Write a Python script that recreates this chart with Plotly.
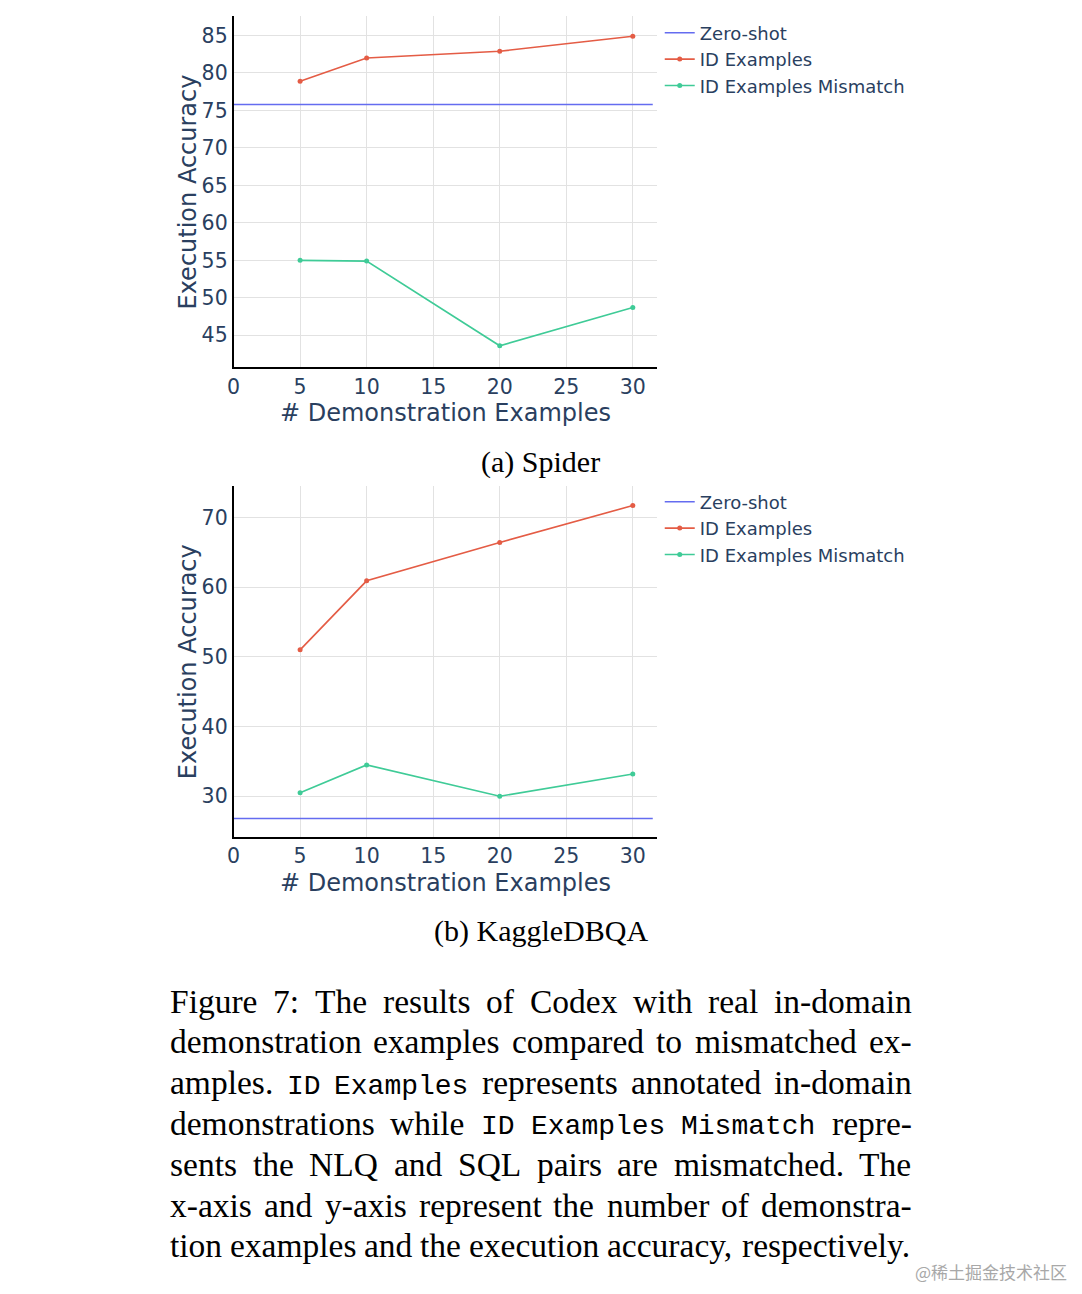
import plotly.graph_objects as go

# ---------------- data ----------------
shots = [5, 10, 20, 30]
zero_x = [0, 31.5]

spider_zero = 75.8
spider_id = [78.9, 82.0, 82.9, 84.9]
spider_mismatch = [55.0, 54.9, 43.6, 48.7]

kaggle_zero = 26.8
kaggle_id = [51.0, 60.9, 66.4, 71.7]
kaggle_mismatch = [30.5, 34.5, 30.0, 33.2]

x_ticks = [0, 5, 10, 15, 20, 25, 30]
spider_y_ticks = [45, 50, 55, 60, 65, 70, 75, 80, 85]
kaggle_y_ticks = [30, 40, 50, 60, 70]

series_names = ["Zero-shot", "ID Examples", "ID Examples Mismatch"]
x_title = "# Demonstration Examples"
y_title = "Execution Accuracy"
sub_captions = ["(a) Spider", "(b) KaggleDBQA"]

caption_lines = [
    "Figure 7:  The results of Codex with real in-domain",
    "demonstration examples compared to mismatched ex-",
    "amples. `ID `Examples represents annotated in-domain",
    "demonstrations while `ID `Examples `Mismatch repre-",
    "sents the NLQ and SQL pairs are mismatched.  The",
    "x-axis and y-axis represent the number of demonstra-",
    "tion examples and the execution accuracy, respectively.",
]
watermark = "@稀土掘金技术社区"

# ---------------- layout helpers ----------------
PAGE_MARGIN = 8          # default body margin of the html page
W, H = 1082 - 2 * PAGE_MARGIN, 1294 - 2 * PAGE_MARGIN
def fx(p):
    return (p - PAGE_MARGIN) / W
def fy(p):
    return 1 - (p - PAGE_MARGIN) / H

colors = ["#646cf0", "#e45c45", "#3fcb97"]
TXT = "#2a3f5f"
SANS = "DejaVu Sans"

fig = go.Figure()

panels = [
    dict(zero=spider_zero, idv=spider_id, mis=spider_mismatch, xa="x", ya="y", leg="legend"),
    dict(zero=kaggle_zero, idv=kaggle_id, mis=kaggle_mismatch, xa="x2", ya="y2", leg="legend2"),
]
for p in panels:
    fig.add_trace(go.Scatter(x=zero_x, y=[p["zero"]] * len(zero_x), mode="lines",
                             name=series_names[0], line=dict(color=colors[0], width=1.6),
                             xaxis=p["xa"], yaxis=p["ya"], legend=p["leg"]))
    fig.add_trace(go.Scatter(x=shots, y=p["idv"], mode="lines+markers",
                             name=series_names[1], line=dict(color=colors[1], width=1.6),
                             marker=dict(size=5), xaxis=p["xa"], yaxis=p["ya"], legend=p["leg"]))
    fig.add_trace(go.Scatter(x=shots, y=p["mis"], mode="lines+markers",
                             name=series_names[2], line=dict(color=colors[2], width=1.6),
                             marker=dict(size=5), xaxis=p["xa"], yaxis=p["ya"], legend=p["leg"]))

axis_common = dict(showline=True, linecolor="black", linewidth=1.5, showgrid=True,
                   gridcolor="#e2e2e2", gridwidth=1, zeroline=False, ticks="",
                   tickfont=dict(size=20.5, color=TXT, family=SANS))

top_dom = [fy(367.3), fy(16)]
bot_dom = [fy(836.7), fy(486)]
x_dom = [fx(228), fx(654)]

fig.update_layout(
    width=W, height=H, margin=dict(l=0, r=0, t=0, b=0),
    paper_bgcolor="white", plot_bgcolor="white",
    font=dict(family=SANS, color=TXT),
    xaxis=dict(domain=x_dom, range=[0, 31.8], tickvals=x_ticks, anchor="y", **axis_common),
    yaxis=dict(domain=top_dom, range=[40.73, 87.6], tickvals=spider_y_ticks, anchor="x", **axis_common),
    xaxis2=dict(domain=x_dom, range=[0, 31.8], tickvals=x_ticks, anchor="y2", **axis_common),
    yaxis2=dict(domain=bot_dom, range=[24.2, 74.5], tickvals=kaggle_y_ticks, anchor="x2", **axis_common),
    legend=dict(x=fx(657), y=fy(14.5), xanchor="left", yanchor="top",
                font=dict(size=18, color=TXT, family=SANS), bgcolor="rgba(0,0,0,0)", itemwidth=30),
    legend2=dict(x=fx(657), y=fy(483.5), xanchor="left", yanchor="top",
                 font=dict(size=18, color=TXT, family=SANS), bgcolor="rgba(0,0,0,0)", itemwidth=30),
    showlegend=True,
)

ann = []
# axis titles
for (top, bot) in [(16, 367.3), (486, 836.7)]:
    ann.append(dict(x=fx(182), y=fy((top + bot) / 2), xref="paper", yref="paper",
                    text=y_title, textangle=-90, showarrow=False, xanchor="center", yanchor="middle",
                    font=dict(size=24, color=TXT, family=SANS)))
    ann.append(dict(x=fx(441), y=fy(bot + 46), xref="paper", yref="paper",
                    text=x_title, showarrow=False, xanchor="center", yanchor="middle",
                    font=dict(size=24, color=TXT, family=SANS)))

# sub captions
for txt, yc in zip(sub_captions, [462, 931]):
    ann.append(dict(x=fx(537), y=fy(yc), xref="paper", yref="paper", text=txt, showarrow=False,
                    xanchor="center", yanchor="middle",
                    font=dict(size=30, color="black", family="Liberation Serif")))

# justified caption paragraph (Times metrics, Liberation Serif is metric compatible)
times_w = {" ": 250, "!": 333, "(": 333, ")": 333, ",": 250, "-": 333, ".": 250, ":": 278,
           "0": 500, "1": 500, "2": 500, "3": 500, "4": 500, "5": 500, "6": 500, "7": 500, "8": 500, "9": 500,
           "A": 722, "B": 667, "C": 667, "D": 722, "E": 611, "F": 556, "G": 722, "H": 722, "I": 333,
           "J": 389, "K": 722, "L": 611, "M": 889, "N": 722, "O": 722, "P": 556, "Q": 722, "R": 667,
           "S": 556, "T": 611, "U": 722, "V": 722, "W": 944, "X": 722, "Y": 722, "Z": 611,
           "a": 444, "b": 500, "c": 444, "d": 500, "e": 444, "f": 333, "g": 500, "h": 500, "i": 278,
           "j": 278, "k": 500, "l": 278, "m": 778, "n": 500, "o": 500, "p": 500, "q": 500, "r": 333,
           "s": 389, "t": 278, "u": 500, "v": 500, "w": 722, "x": 500, "y": 500, "z": 444}
SERIF = 33.5
MONO = 28.0
left, right = 163, 909
line_y0, line_dy = 1001, 40.8

def word_width(w, mono):
    if mono:
        return len(w) * 0.6 * MONO
    return sum(times_w.get(c, 500) for c in w) / 1000 * SERIF

for i, line in enumerate(caption_lines):
    words = [w for w in line.split(" ") if w]
    toks = [(w.lstrip("`"), w.startswith("`")) for w in words]
    widths = [word_width(w, m) for w, m in toks]
    gap = (right - left - sum(widths)) / (len(toks) - 1)
    xpos = left
    yc = line_y0 + i * line_dy
    for (w, m), wd in zip(toks, widths):
        if m:
            ann.append(dict(x=fx(xpos), y=fy(yc + 3.5), xref="paper", yref="paper", text=w,
                            showarrow=False, xanchor="left", yanchor="middle", borderpad=0,
                            font=dict(size=MONO, color="black", family="Liberation Mono")))
        else:
            ann.append(dict(x=fx(xpos), y=fy(yc), xref="paper", yref="paper", text=w,
                            showarrow=False, xanchor="left", yanchor="middle", borderpad=0,
                            font=dict(size=SERIF, color="black", family="Liberation Serif")))
        xpos += wd + gap

ann.append(dict(x=fx(1068), y=fy(1285), xref="paper", yref="paper", text=watermark, showarrow=False,
                xanchor="right", yanchor="bottom", borderpad=0,
                font=dict(size=17, color="#a8a8a8", family="Noto Sans CJK SC")))

fig.update_layout(annotations=ann)
fig.write_html("out.html")
